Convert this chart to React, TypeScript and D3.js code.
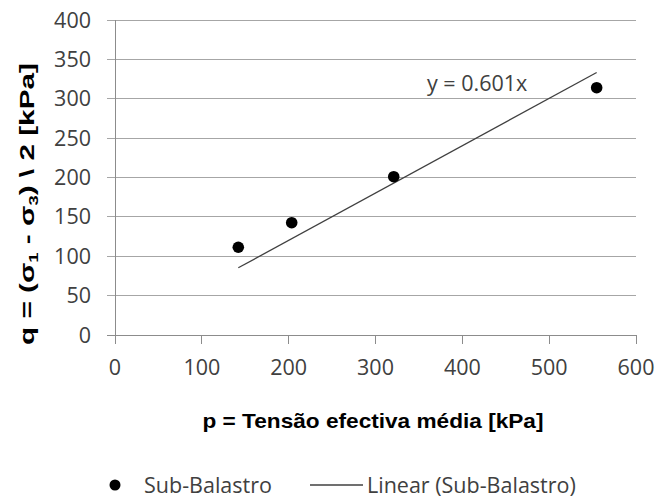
import React from "react";
import * as d3 from "d3";

// Triaxial test results: mean effective stress p vs deviatoric half-stress q
const pValues = [142, 203.5, 321, 554.7];
const qValues = [111.4, 142.6, 201, 314];
const slope = 0.601;
const xTicks = [0, 100, 200, 300, 400, 500, 600];
const yTicks = [0, 50, 100, 150, 200, 250, 300, 350, 400];
const seriesName = "Sub-Balastro";
const trendName = "Linear (Sub-Balastro)";

const W = 655;
const H = 500;

export default function App() {
  const x = d3.scaleLinear().domain([0, 600]).range([115, 636]);
  const y = d3.scaleLinear().domain([0, 400]).range([335, 20]);
  const points = pValues.map((p, i) => ({ p, q: qValues[i] }));
  const pMin = d3.min(pValues) as number;
  const pMax = d3.max(pValues) as number;
  const trend = d3
    .line<number>()
    .x((d) => x(d))
    .y((d) => y(slope * d))([pMin, pMax]);

  const tickFont = "'Open Sans', sans-serif";
  const titleFont = "'Liberation Sans', Arial, sans-serif";
  const fs = 21.5;
  const gridColor = "#a6a6a6";
  const axisColor = "#8c8c8c";
  const textColor = "#404040";
  const legendY = 485;

  return (
    <svg
      width={W}
      height={H}
      style={{ position: "absolute", left: 0, top: 0, background: "#fff" }}
    >
      {/* horizontal gridlines */}
      {yTicks.map((t) => (
        <line
          key={"g" + t}
          x1={107}
          x2={x(600)}
          y1={y(t)}
          y2={y(t)}
          stroke={t === 0 ? axisColor : gridColor}
          strokeWidth={1}
          shapeRendering="crispEdges"
        />
      ))}
      {/* vertical axis */}
      <line
        x1={x(0)}
        x2={x(0)}
        y1={y(400)}
        y2={y(0) + 9}
        stroke={axisColor}
        shapeRendering="crispEdges"
      />
      {/* x ticks */}
      {xTicks.slice(1).map((t) => (
        <line
          key={"xt" + t}
          x1={x(t)}
          x2={x(t)}
          y1={y(0)}
          y2={y(0) + 9}
          stroke={axisColor}
          shapeRendering="crispEdges"
        />
      ))}
      {/* y tick labels */}
      {yTicks.map((t) => (
        <text
          key={"yl" + t}
          x={91}
          y={y(t)}
          dy="0.35em"
          textAnchor="end"
          fontFamily={tickFont}
          fontSize={fs}
          fill={textColor}
        >
          {t}
        </text>
      ))}
      {/* x tick labels */}
      {xTicks.map((t) => (
        <text
          key={"xl" + t}
          x={x(t)}
          y={367}
          dy="0.35em"
          textAnchor="middle"
          fontFamily={tickFont}
          fontSize={fs}
          fill={textColor}
        >
          {t}
        </text>
      ))}
      {/* linear trendline */}
      <path d={trend ?? ""} stroke="#404040" strokeWidth={1.3} fill="none" />
      <text
        x={427}
        y={83}
        dy="0.35em"
        fontFamily={tickFont}
        fontSize={fs}
        fill={textColor}
      >
        y = 0.601x
      </text>
      {/* data points */}
      {points.map((d, i) => (
        <circle key={"pt" + i} cx={x(d.p)} cy={y(d.q)} r={5.8} fill="#000" />
      ))}
      {/* axis titles */}
      <text
        x={373}
        y={428}
        textAnchor="middle"
        fontFamily={titleFont}
        fontWeight="bold"
        fontSize={21}
        textLength={341}
        lengthAdjust="spacingAndGlyphs"
        fill="#000"
      >
        p = Tensão efectiva média [kPa]
      </text>
      <text
        transform="translate(34, 345) rotate(-90)"
        x={0}
        y={0}
        fontFamily={titleFont}
        fontWeight="bold"
        fontSize={21}
        textLength={282}
        lengthAdjust="spacingAndGlyphs"
        fill="#000"
      >
        q = (σ<tspan fontSize={13} dy={4}>1</tspan>
        <tspan dy={-4}> - σ</tspan>
        <tspan fontSize={13} dy={4}>3</tspan>
        <tspan dy={-4}>) \ 2  [kPa]</tspan>
      </text>
      {/* legend */}
      <circle cx={115} cy={legendY} r={5.5} fill="#000" />
      <text
        x={144}
        y={legendY}
        dy="0.35em"
        fontFamily={tickFont}
        fontSize={fs}
        fill={textColor}
      >
        {seriesName}
      </text>
      <line
        x1={310}
        x2={363}
        y1={legendY}
        y2={legendY}
        stroke="#404040"
        strokeWidth={1.3}
      />
      <text
        x={367}
        y={legendY}
        dy="0.35em"
        fontFamily={tickFont}
        fontSize={fs}
        fill={textColor}
      >
        {trendName}
      </text>
    </svg>
  );
}
